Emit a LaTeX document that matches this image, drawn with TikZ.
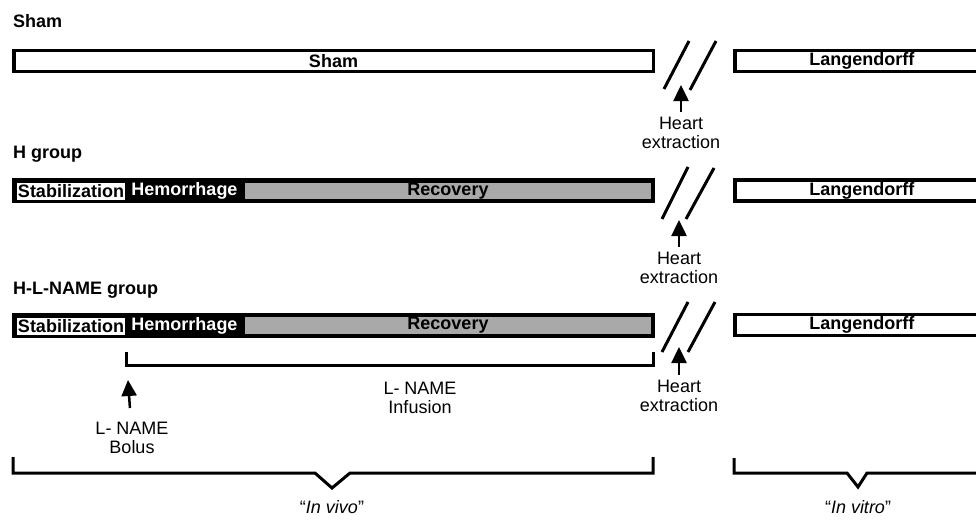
\documentclass[tikz,border=0pt]{standalone}
\usepackage{fontspec}
\setmainfont{Liberation Sans}
\usetikzlibrary{arrows.meta,positioning}

\definecolor{recgray}{HTML}{A9A9A9}

\tikzstyle{txt}=[font=\fontsize{18}{19}\selectfont]
\tikzstyle{bar}=[rectangle,draw=black,line width=3.5pt,fill=white,minimum height=21pt,inner sep=0pt,font=\fontsize{18}{19}\selectfont\bfseries]
\tikzstyle{hbar}=[rectangle,fill=black,minimum width=643pt,minimum height=25pt,inner sep=0pt]
\tikzstyle{stab}=[rectangle,fill=white,minimum width=108pt,minimum height=17pt,inner sep=0pt,font=\fontsize{18}{19}\selectfont\bfseries]
\tikzstyle{hem}=[text=white,inner sep=0pt,font=\fontsize{18}{19}\selectfont\bfseries]
\tikzstyle{rec}=[rectangle,fill=recgray,minimum width=406pt,minimum height=16pt,inner sep=0pt,font=\fontsize{18}{19}\selectfont\bfseries]
\tikzstyle{grouptitle}=[anchor=base west,inner sep=0pt,font=\fontsize{18}{19}\selectfont\bfseries]
\tikzstyle{note}=[txt,align=center,anchor=north,inner sep=1pt]
\tikzstyle{pre}=[<-,>={Triangle[width=15pt,length=16pt]},shorten >=4pt,line width=2.5pt]
\tikzstyle{brk}=[line width=3pt]
\tikzstyle{brace}=[line width=3pt,line join=miter]

\begin{document}
\begin{tikzpicture}[x=1pt,y=-1pt]
  \clip (0,0) rectangle (976,519);

  % Sham
  \node[grouptitle] (shamtitle) at (13,28) {Sham};
  \node[bar,minimum width=639.5pt] (sham) at (333.5,61) {Sham};
  \node[bar,minimum width=254.25pt] (lang1) at (861.9,61) {Langendorff};
  \draw[brk] (664,89) -- (689,41);
  \draw[brk] (690,90) -- (716,41);
  \node[note] (heart1) at (681,116) {Heart\\extraction};
  \coordinate (tip1) at (681,85);
  \draw[pre] (tip1) -- (heart1);

  % H group
  \node[grouptitle] (htitle) at (13,158) {H group};
  \node[hbar] (hbar1) at (333.5,190.5) {};
  \node[stab] (stab1) at (71,191.5) {Stabilization};
  \node[hem] (hem1) at (184.5,191) {Hemorrhage};
  \node[rec] (rec1) at (448,191) {Recovery};
  \node[bar,minimum width=254.25pt] (lang2) at (861.9,190.5) {Langendorff};
  \draw[brk] (662,219) -- (688,167);
  \draw[brk] (686,219) -- (714,168);
  \node[note] (heart2) at (679,251) {Heart\\extraction};
  \coordinate (tip2) at (679,220);
  \draw[pre] (tip2) -- (heart2);

  % H-L-NAME group
  \node[grouptitle] (hltitle) at (13,294) {H-L-NAME group};
  \node[hbar] (hbar2) at (333.5,325) {};
  \node[stab] (stab2) at (71,326) {Stabilization};
  \node[hem] (hem2) at (184.5,325.5) {Hemorrhage};
  \node[rec] (rec2) at (448,325.5) {Recovery};
  \node[bar,minimum width=254.25pt] (lang3) at (861.9,325) {Langendorff};
  \draw[brk] (662,352) -- (688,302);
  \draw[brk] (688,352) -- (715,302);
  \node[note] (heart3) at (679,379) {Heart\\extraction};
  \coordinate (tip3) at (679,347);
  \draw[pre] (tip3) -- (heart3);

  % L-NAME treatment
  \draw[brace] (126,352) |- (653,365) -- (653,352);
  \node[note] (infusion) at (420,381) {L- NAME\\Infusion};
  \node[note] (bolus) at (132,421) {L- NAME\\Bolus};
  \coordinate (tipb) at (128,380);
  \draw[pre,shorten >=13pt] (tipb) -- (bolus);

  % in vivo / in vitro
  \draw[brace] (13,457) |- (315,473) -- (332,488) -- (350,473) -- (653,473) -- (653,457);
  \draw[brace] (734,458) |- (847,473) -- (858,487) -- (867,473) -- (990,473);
  \node[txt,anchor=base] (invivo) at (332,513) {“\textit{In vivo}”};
  \node[txt,anchor=base] (invitro) at (858,513) {“\textit{In vitro}”};
\end{tikzpicture}
\end{document}
